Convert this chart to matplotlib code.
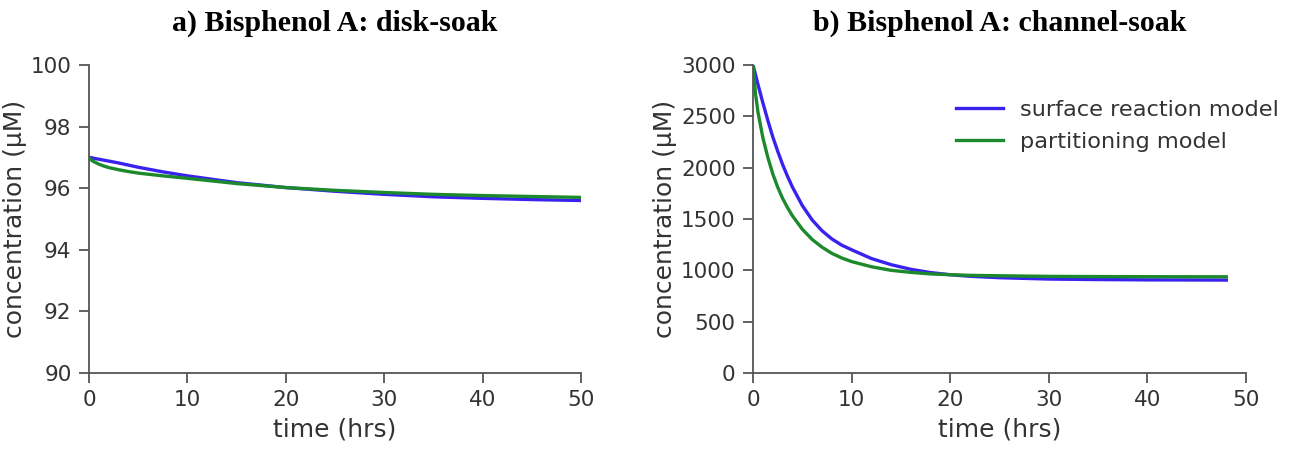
import matplotlib.pyplot as plt

# disk-soak (panel a)
t_disk = [0, 0.25, 0.5, 1, 1.5, 2, 3, 4, 5, 7.5, 10, 15, 20, 25, 30, 35, 40, 45, 50]
surf_disk = [97.0, 96.99, 96.97, 96.94, 96.91, 96.88, 96.82, 96.75, 96.68, 96.53, 96.40, 96.18, 96.02, 95.90, 95.80, 95.72, 95.67, 95.63, 95.60]
part_disk = [97.0, 96.91, 96.86, 96.78, 96.72, 96.67, 96.60, 96.54, 96.49, 96.40, 96.32, 96.15, 96.02, 95.93, 95.86, 95.80, 95.76, 95.73, 95.70]

# channel-soak (panel b)
t_chan = [0, 0.25, 0.5, 1, 1.5, 2, 2.5, 3, 3.5, 4, 5, 6, 7, 8, 9, 10, 12, 14, 16, 18, 20, 22, 25, 30, 35, 40, 48]
surf_chan = [3000, 2905, 2810, 2630, 2460, 2300, 2160, 2030, 1915, 1810, 1630, 1490, 1385, 1305, 1245, 1200, 1115, 1055, 1010, 978, 957, 942, 928, 915, 910, 907, 905]
part_chan = [3000, 2720, 2540, 2290, 2100, 1940, 1810, 1700, 1610, 1530, 1400, 1300, 1225, 1165, 1120, 1085, 1035, 1000, 980, 965, 957, 951, 947, 941, 939, 938, 937]

titles = ["a) Bisphenol A: disk-soak", "b) Bisphenol A: channel-soak"]
labels = ["surface reaction model", "partitioning model"]

BLUE = "#3a22ee"
GREEN = "#1c8a2c"
AXC = "#555555"
TXC = "#333333"

fig = plt.figure(figsize=(12.97, 4.53), dpi=100)
ax1 = fig.add_axes([0.0686, 0.1766, 0.3793, 0.680])
ax2 = fig.add_axes([0.5806, 0.1766, 0.3801, 0.680])

ax1.plot(t_disk, surf_disk, color=BLUE, lw=2.4, label=labels[0])
ax1.plot(t_disk, part_disk, color=GREEN, lw=2.4, label=labels[1])
ax1.set_ylim(90, 100)
ax1.set_yticks([90, 92, 94, 96, 98, 100])

ax2.plot(t_chan, surf_chan, color=BLUE, lw=2.4, label=labels[0])
ax2.plot(t_chan, part_chan, color=GREEN, lw=2.4, label=labels[1])
ax2.set_ylim(0, 3000)
ax2.set_yticks(range(0, 3001, 500))
ax2.legend(loc="upper left", bbox_to_anchor=(0.411, 0.886), frameon=False,
           fontsize=16.2, handlelength=2.1, handletextpad=0.75,
           labelspacing=0.52, labelcolor=TXC, borderaxespad=0, borderpad=0)

for ax, title in zip([ax1, ax2], titles):
    ax.set_xlim(0, 50)
    ax.set_xticks(range(0, 51, 10))
    ax.spines["top"].set_visible(False)
    ax.spines["right"].set_visible(False)
    for s in ("left", "bottom"):
        ax.spines[s].set_color(AXC)
        ax.spines[s].set_linewidth(1.3)
    ax.tick_params(direction="out", length=7.5, width=1.3, color=AXC,
                   labelsize=15.5, labelcolor=TXC, pad=5)
    ax.set_xlabel("time (hrs)", fontsize=18, color=TXC, labelpad=5)
    ax.set_ylabel("concentration (μM)", fontsize=18, color=TXC, labelpad=3)
    ax.set_title(title, fontsize=21.5, fontweight="bold", family="Liberation Serif",
                 pad=25)

fig.savefig("out.png", dpi=100)
